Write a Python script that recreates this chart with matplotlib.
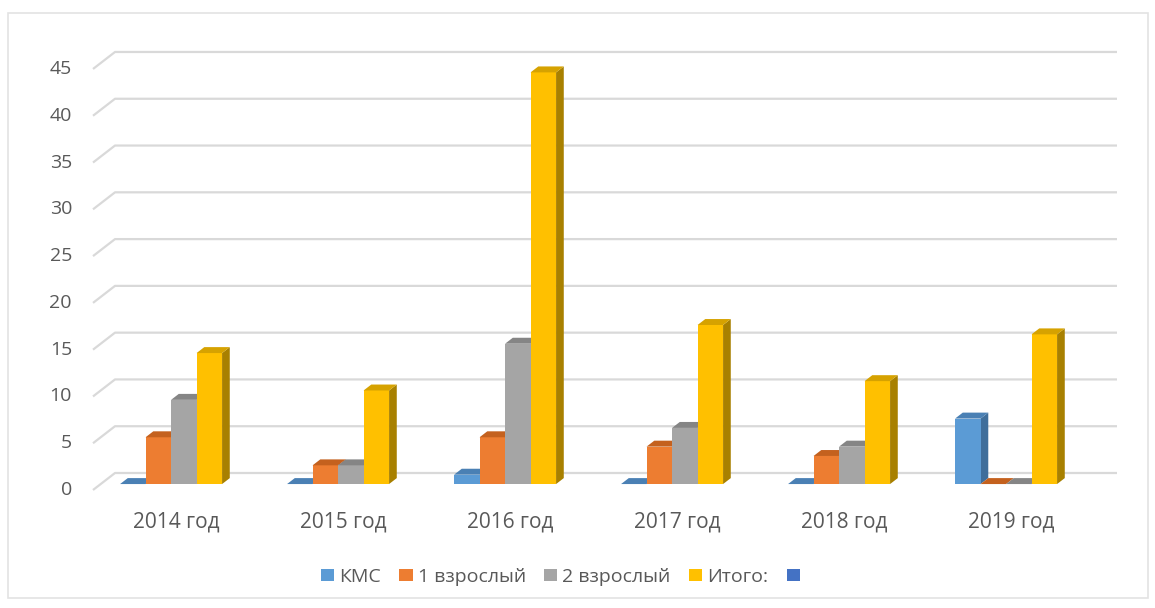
import matplotlib.pyplot as plt
from matplotlib.patches import Polygon, Patch, Rectangle
import numpy as np

plt.rcParams['font.family'] = ['Open Sans', 'DejaVu Sans']

# data
years = ["2014 год", "2015 год", "2016 год", "2017 год", "2018 год", "2019 год"]
kms = [0, 0, 1, 0, 0, 7]
vzr1 = [5, 2, 5, 4, 3, 0]
vzr2 = [9, 2, 15, 6, 4, 0]
total = [14, 10, 44, 17, 11, 16]
series_names = ["КМС", "1 взрослый", "2 взрослый", "Итого:"]
yticks = [0, 5, 10, 15, 20, 25, 30, 35, 40, 45]

# colors (front, top, side)
c_front = ["#5B9BD5", "#ED7D31", "#A5A5A5", "#FFC000"]
c_top = ["#4A80B4", "#C4611E", "#858585", "#D6A200"]
c_side = ["#3F6E9B", "#B0561A", "#7A7A7A", "#A88000"]
c_grid = "#D9D9D9"
c_text = "#595959"

W, H = 1155, 608
fig = plt.figure(figsize=(W / 100, H / 100), dpi=100)
ax = fig.add_axes([0, 0, 1, 1])

# pixel mapping of the front floor plane
X0, SX = 176.5, 167.0
Y0, SY = 490.0, 9.356
ax.set_xlim(-X0 / SX, (W - X0) / SX)
ax.set_ylim((Y0 - H) / SY, Y0 / SY)
ax.axis('off')

# depth of the floor (front -> back wall)
DX, DY = 22 / SX, 17 / SY
d0, d1 = 0.35, 0.70  # bar depth range as fraction of floor depth
bw = 25.5 / SX
n = len(years)

# gridlines
for v in yticks:
    ax.plot([-0.5, -0.5 + DX, n - 0.5 + DX], [v, v + DY, v + DY],
            color=c_grid, lw=1.6, zorder=1, solid_capstyle='butt')
    ax.text(-0.626, v, str(v), ha='right', va='center', fontsize=14, color=c_text)

for i, lab in enumerate(years):
    ax.text(i, -3.45, lab, ha='center', va='center', fontsize=15, color=c_text)

data = [kms, vzr1, vzr2, total]
fx, fy = d0 * DX, d0 * DY
bx, by = (d1 - d0) * DX, (d1 - d0) * DY
for i in range(n):
    left0 = i - 0.384
    for s in range(4):
        v = data[s][i]
        x0 = left0 + s * bw + fx
        x1 = x0 + bw
        y0 = fy
        y1 = fy + v
        z = 3 + i * 10 + s
        if v > 0:
            ax.add_patch(Polygon([(x1, y0), (x1 + bx, y0 + by), (x1 + bx, y1 + by), (x1, y1)],
                                 closed=True, fc=c_side[s], ec='none', zorder=z))
            ax.add_patch(Polygon([(x0, y0), (x1, y0), (x1, y1), (x0, y1)],
                                 closed=True, fc=c_front[s], ec='none', zorder=z))
        ax.add_patch(Polygon([(x0, y1), (x1, y1), (x1 + bx, y1 + by), (x0 + bx, y1 + by)],
                             closed=True, fc=c_top[s], ec='none', zorder=z))

# legend
handles = [Patch(fc=c) for c in c_front] + [Patch(fc="#4472C4")]
labels = series_names + [""]
fig.legend(handles, labels, loc='center', bbox_to_anchor=(563 / W, 1 - 577 / H),
           ncol=5, frameon=False, fontsize=14, labelcolor=c_text,
           handlelength=0.68, handleheight=0.62, handletextpad=0.25,
           columnspacing=0.95)

# outer chart border
fig.add_artist(Rectangle((8 / W, 1 - 598 / H), 1140 / W, 585 / H, transform=fig.transFigure,
                         fill=False, ec="#E3E3E3", lw=1.2))

fig.savefig("out.png", dpi=100, facecolor="white")
